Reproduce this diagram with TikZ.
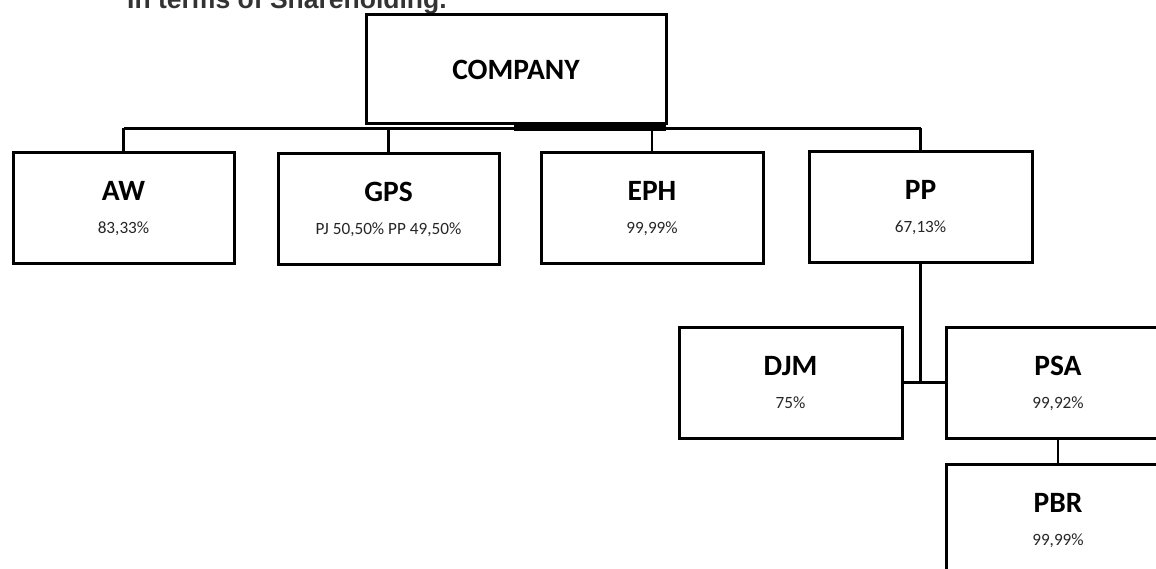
\documentclass[tikz,border=0pt]{standalone}
\usepackage{fontspec}
\setmainfont{Carlito}
\newfontfamily\headingfont{Liberation Sans}
\usepackage{tikz}
\usetikzlibrary{positioning}

% one holding: box, name and share
\newcommand{\holding}[4]{%
  \node[unit, #2] (#1) {};
  \node[unitname] (#1-name) at ([yshift=-48pt]#1.north) {#3};
  \node[unitshare] (#1-share) at ([yshift=-81pt]#1.north) {#4};
}

\begin{document}
\begin{tikzpicture}[
  x=1pt, y=-1pt,
  unit/.style={draw, line width=3pt, minimum width=222pt, minimum height=111pt, inner sep=0pt, outer sep=0pt},
  top/.style={unit, minimum width=300pt, minimum height=109pt, font=\fontsize{29.5}{34}\selectfont\bfseries},
  unitname/.style={anchor=base, inner sep=0pt, font=\fontsize{29.5}{34}\selectfont\bfseries},
  unitshare/.style={anchor=base, inner sep=0pt, text=black!85, font=\fontsize{17.2}{20}\selectfont},
  heading/.style={anchor=base west, inner sep=0pt, text=black!80, font=\headingfont\fontsize{26.5}{30}\selectfont\bfseries},
  link/.style={line width=2.8pt},
]
\useasboundingbox (0,0) rectangle (1156,569);
\node[heading] (heading) at (127,9) {In terms of Shareholding.};
\node[top] (company) at (516,69.5) {COMPANY};
\holding{aw}{at={(123.5,208)}, minimum width=221pt}{AW}{83,33\%}
\holding{gps}{at={(388.5,209)}, minimum width=221pt}{GPS}{PJ 50,50\% PP 49,50\%}
\holding{eph}{at={(652,208)}}{EPH}{99,99\%}
\holding{pp}{at={(920.5,207.5)}, minimum width=223pt}{PP}{67,13\%}
\holding{psa}{at={(1058,382.5)}, minimum width=224pt}{PSA}{99,92\%}
\holding{djm}{left=44pt of psa, minimum width=223pt}{DJM}{75\%}
\holding{pbr}{below=26pt of psa, minimum width=224pt}{PBR}{99,99\%}
% bus under the company box
\coordinate (bus) at (516,128.5);
\coordinate (join) at ([xshift=-152pt,yshift=-3.5pt]company.south east);
\draw[line width=7pt] (join) -- (join -| company.south east);
\draw[link] (aw.north |- bus) -- (pp.north |- bus);
\foreach \u in {aw,gps,eph,pp} \draw[link] (\u.north) -- (\u.north |- bus);
\draw[link] (pp.south) -- (pp.south |- psa.west);
\draw[link] (djm.east) -- (psa.west);
\draw[link] (psa.south) -- (pbr.north);
\end{tikzpicture}
\end{document}
